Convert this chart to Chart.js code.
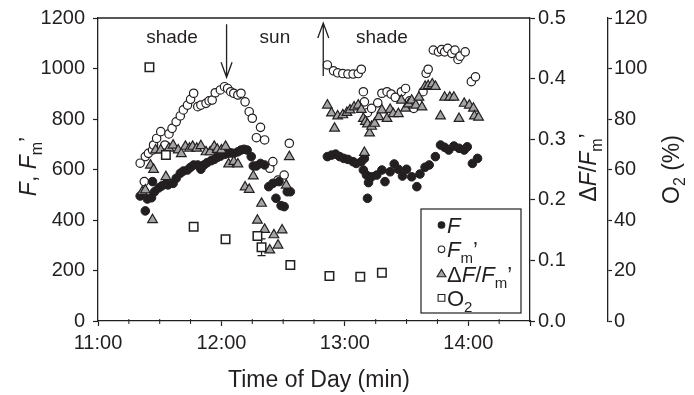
<!DOCTYPE html>
<html lang="en">
<head>
  <meta charset="UTF-8" />
  <title>F, Fm' and O2 through the day</title>
  <script src="https://cdn.jsdelivr.net/npm/chart.js"></script>
  <style>
    body {
      margin: 0;
      padding: 0;
      background: #ffffff;
      overflow: hidden;
    }
    .wrap {
      position: relative;
      width: 694px;
      height: 395px;
    }
  </style>
</head>
<body>
  <div class="wrap">
    <canvas id="chart" width="694" height="395"></canvas>
  </div>

  <script>
    // time of day in minutes after midnight
    const fTime = [680.5, 683, 684, 686, 686.5, 687.5, 689.5, 691, 693, 694, 696.5, 698, 700, 701.5, 703.5, 705, 706.5, 708.5, 710, 711.5,
      713, 715, 716.5, 718, 719.5, 721.5, 723, 724.5, 726, 728, 729.5, 731, 732.5, 734.5, 735.5, 737, 739, 741, 743, 745,
      746.5, 748, 749, 750.5, 752, 753.5,
      771.5, 773.5, 775.5, 777.5, 779.5, 781.5, 784, 785.5, 788, 789, 789.5, 790.5, 791, 791.5, 793, 795.5, 798, 799.5, 802, 804,
      806, 808, 810, 812.5, 815, 816.5, 819, 821, 824, 826.5, 828.5, 830.5, 833, 835.5, 838, 839.5, 842, 844.5];
    const fVal = [495, 436, 483, 488, 552, 512, 527, 535, 543, 539, 545, 565, 585, 594, 598, 609, 618, 618, 601, 618,
      627, 635, 640, 648, 653, 660, 664, 666, 664, 670, 677, 680, 677, 651, 614, 614, 624, 618, 532, 545,
      486, 552, 457, 453, 512, 512,
      651, 657, 661, 651, 644, 640, 631, 624, 631, 598, 644, 578, 486, 548, 571, 578, 598, 552, 591, 622,
      601, 574, 601, 571, 532, 582, 609, 618, 651, 697, 688, 677, 693, 684, 677, 690, 624, 644];

    const fmTime = [680.5, 682.5, 683, 684.5, 686.5, 687, 688.5, 690.5, 692.5, 694.5, 696, 698, 700, 701.5, 703.5, 705, 706.5, 708.5, 710, 712.5,
      714, 715.5, 717, 719.5, 721.5, 723, 724.5, 726, 728, 729.5, 731.5, 733.5, 735, 737, 739, 741, 743.5, 745, 747.5, 750.5, 753,
      771.5, 774.5, 776.5, 779, 781.5, 784, 786.5, 788, 789, 789.5, 791, 793, 796, 798, 800.5, 802.5, 804.5, 807.5, 809.5, 811.5,
      813.5, 815.5, 818, 819.5, 820.5, 823, 825.5, 827, 828.5, 830, 832, 833.5, 835, 836, 838.5, 841.5, 843.5];
    const fmVal = [625, 552, 651, 664, 677, 697, 723, 750, 697, 741, 763, 789, 812, 836, 855, 878, 902, 849, 855, 862,
      872, 875, 904, 915, 928, 921, 908, 902, 895, 902, 868, 829, 803, 726, 767, 717, 605, 631, 558, 578, 704,
      1014, 991, 983, 980, 978, 978, 980, 997, 908, 868, 825, 842, 864, 902, 908, 899, 886, 908, 921, 872,
      842, 862, 908, 981, 997, 1073, 1066, 1075, 1066, 1080, 1060, 1073, 1036, 1049, 1066, 948, 967];

    const phiTime = [681.5, 683, 685.5, 686.5, 687, 688, 690.5, 693, 694.5, 696.5, 699, 700.5, 702.5, 704.5, 706, 708, 710, 712.5, 714.5, 716.5,
      718, 720, 722, 723.5, 726, 728, 731.5, 733.5, 735.5, 737.5, 739.5, 741, 743.5, 745.5, 747.5, 749.5, 751.5, 753,
      771.5, 773.5, 775, 776.5, 779, 781, 782.5, 784.5, 786.5, 788, 789, 789.5, 790, 791, 792, 793, 794.5, 796.5, 798, 800.5,
      802, 803.5, 806, 807.5, 809.5, 811, 812.5, 814.5, 816, 817.5, 819, 820.5, 822.5, 824, 826.5, 828.5, 831, 833, 835.5, 838,
      840.5, 842.5, 843, 845];
    const phiVal = [0.213, 0.216, 0.257, 0.167, 0.25, 0.282, 0.282, 0.238, 0.285, 0.29, 0.282, 0.276, 0.288, 0.285, 0.288, 0.285, 0.289, 0.279, 0.279, 0.288,
      0.283, 0.282, 0.288, 0.259, 0.263, 0.259, 0.221, 0.217, 0.239, 0.166, 0.194, 0.151, 0.117, 0.142, 0.125, 0.15, 0.224, 0.271,
      0.356, 0.343, 0.318, 0.338, 0.34, 0.344, 0.348, 0.353, 0.356, 0.349, 0.334, 0.278, 0.329, 0.325, 0.31, 0.321, 0.326, 0.337, 0.348, 0.334,
      0.349, 0.342, 0.342, 0.364, 0.351, 0.358, 0.364, 0.356, 0.369, 0.353, 0.387, 0.388, 0.391, 0.387, 0.338, 0.369, 0.369, 0.369, 0.334, 0.359,
      0.356, 0.351, 0.338, 0.336];

    const o2Time = [685, 693, 706.5, 722, 737.5, 739.5, 753.5, 772.5, 787.5, 798];
    const o2Val = [100.5, 65.7, 37.3, 32.4, 33.7, 29.2, 22.2, 17.8, 17.5, 19.1];
    const o2Err = [0, 0, 0, 1.2, 0, 3.3, 1.4, 0, 0, 0];

    // light changes: arrows (time, start and end on the F axis) and the notes above them
    const arrowTime = [722.5, 769.5];
    const arrowFrom = [1175, 970];
    const arrowTo = [965, 1180];
    const noteText = ['shade', 'sun', 'shade'];
    const noteTime = [696, 746, 798];
    const noteLevel = 1100;

    const FONT = "'Liberation Sans', Arial, sans-serif";
    const INK = '#231f20';
    const GREY = '#a4a4a4';

    const toPoints = (xs, ys) => xs.map((x, i) => ({ x: x, y: ys[i] }));

    // draws text made of pieces (italic / subscript), centred or left aligned on a baseline
    function drawRich(ctx, parts, x, y, size, align) {
      const items = parts.map(p => {
        const s = p.sub ? Math.round(size * 0.68) : size;
        const font = (p.it ? 'italic ' : '') + s + 'px ' + FONT;
        ctx.font = font;
        return { t: p.t, font: font, w: ctx.measureText(p.t).width, dy: p.sub ? size * 0.27 : 0 };
      });
      const total = items.reduce((sum, it) => sum + it.w, 0);
      let cx = align === 'left' ? x : x - total / 2;
      ctx.textAlign = 'left';
      ctx.textBaseline = 'alphabetic';
      items.forEach(it => {
        ctx.font = it.font;
        ctx.fillText(it.t, cx, y + it.dy);
        cx += it.w;
      });
    }

    function drawRotated(ctx, parts, x, y, size) {
      ctx.save();
      ctx.translate(x, y);
      ctx.rotate(-Math.PI / 2);
      drawRich(ctx, parts, 0, 0, size);
      ctx.restore();
    }

    function legendMarker(ctx, kind, x, y) {
      ctx.beginPath();
      if (kind === 'dot' || kind === 'ring') {
        ctx.arc(x, y, 3.3, 0, Math.PI * 2);
      } else if (kind === 'tri') {
        ctx.moveTo(x, y - 4.2);
        ctx.lineTo(x + 4.4, y + 3.2);
        ctx.lineTo(x - 4.4, y + 3.2);
        ctx.closePath();
      } else {
        ctx.rect(x - 3.4, y - 3.4, 6.8, 6.8);
      }
      ctx.fillStyle = kind === 'dot' ? INK : (kind === 'tri' ? GREY : '#ffffff');
      ctx.fill();
      ctx.lineWidth = 1.1;
      ctx.strokeStyle = INK;
      ctx.stroke();
    }

    const decorations = {
      id: 'decorations',
      beforeDatasetsDraw(chart) {
        const ctx = chart.ctx;
        const xs = chart.scales.x;
        const ys = chart.scales.yO2;
        ctx.save();
        ctx.strokeStyle = INK;
        ctx.lineWidth = 1.2;
        o2Time.forEach((t, i) => {
          if (!o2Err[i]) return;
          const px = xs.getPixelForValue(t);
          const top = ys.getPixelForValue(o2Val[i] + o2Err[i]);
          const bot = ys.getPixelForValue(o2Val[i] - o2Err[i]);
          ctx.beginPath();
          ctx.moveTo(px, top); ctx.lineTo(px, bot);
          ctx.moveTo(px - 4, top); ctx.lineTo(px + 4, top);
          ctx.moveTo(px - 4, bot); ctx.lineTo(px + 4, bot);
          ctx.stroke();
        });
        ctx.restore();
      },
      afterDraw(chart) {
        const ctx = chart.ctx;
        const area = chart.chartArea;
        const xs = chart.scales.x;
        const yF = chart.scales.y;
        ctx.save();
        ctx.strokeStyle = INK;
        ctx.fillStyle = INK;
        ctx.lineWidth = 1.3;

        // top of the frame
        ctx.beginPath();
        ctx.moveTo(area.left, area.top);
        ctx.lineTo(area.right, area.top);
        ctx.stroke();

        // minor ticks every 15 min
        ctx.lineWidth = 1;
        for (let t = 675; t < 870; t += 15) {
          if (t % 60 === 0) continue;
          const px = xs.getPixelForValue(t);
          ctx.beginPath();
          ctx.moveTo(px, area.bottom - 2);
          ctx.lineTo(px, area.bottom + 3);
          ctx.stroke();
        }

        // arrows
        ctx.lineWidth = 1.3;
        arrowTime.forEach((t, i) => {
          const px = xs.getPixelForValue(t);
          const a = yF.getPixelForValue(arrowFrom[i]);
          const b = yF.getPixelForValue(arrowTo[i]);
          const dir = b > a ? 1 : -1;
          ctx.beginPath();
          ctx.moveTo(px, a);
          ctx.lineTo(px, b);
          ctx.moveTo(px - 5.5, b - dir * 15);
          ctx.lineTo(px, b);
          ctx.lineTo(px + 5.5, b - dir * 15);
          ctx.stroke();
        });

        // notes
        ctx.font = '19px ' + FONT;
        ctx.textAlign = 'center';
        ctx.textBaseline = 'alphabetic';
        noteText.forEach((txt, i) => {
          ctx.fillText(txt, xs.getPixelForValue(noteTime[i]), yF.getPixelForValue(noteLevel));
        });

        // axis titles
        const midY = (area.top + area.bottom) / 2;
        drawRotated(ctx, [{ t: 'F', it: true }, { t: ', ' }, { t: 'F', it: true }, { t: 'm', sub: true }, { t: '’' }], 36, midY - 3, 23);
        drawRotated(ctx, [{ t: 'Δ' }, { t: 'F', it: true }, { t: '/' }, { t: 'F', it: true }, { t: 'm', sub: true }, { t: '’' }], 596, midY - 2, 23);
        drawRotated(ctx, [{ t: 'O' }, { t: '2', sub: true }, { t: ' (%)' }], 679, midY, 23);
        drawRich(ctx, [{ t: 'Time of Day (min)' }], (area.left + area.right) / 2 + 5, 387, 23);

        // legend
        const lx = area.right - 109;
        const ly = area.bottom - 112;
        ctx.fillStyle = '#ffffff';
        ctx.fillRect(lx, ly, 100, 104);
        ctx.lineWidth = 1.2;
        ctx.strokeStyle = INK;
        ctx.strokeRect(lx, ly, 100, 104);
        const rows = [
          { kind: 'dot', parts: [{ t: 'F', it: true }] },
          { kind: 'ring', parts: [{ t: 'F', it: true }, { t: 'm', sub: true }, { t: '’' }] },
          { kind: 'tri', parts: [{ t: 'Δ' }, { t: 'F', it: true }, { t: '/' }, { t: 'F', it: true }, { t: 'm', sub: true }, { t: '’' }] },
          { kind: 'sq', parts: [{ t: 'O' }, { t: '2', sub: true }] }
        ];
        rows.forEach((row, i) => {
          const base = ly + 24 + i * 24.3;
          legendMarker(ctx, row.kind, lx + 20.5, base - 8);
          ctx.fillStyle = INK;
          drawRich(ctx, row.parts, lx + 26, base, 22, 'left');
        });
        ctx.restore();
      }
    };

    const tickFont = { family: FONT, size: 20 };

    new Chart(document.getElementById('chart').getContext('2d'), {
      type: 'scatter',
      data: {
        datasets: [
          {
            label: 'O2',
            data: toPoints(o2Time, o2Val),
            yAxisID: 'yO2',
            pointStyle: 'rect',
            pointRadius: 6,
            backgroundColor: '#ffffff',
            borderColor: INK,
            borderWidth: 1.5,
            order: 0
          },
          {
            label: 'dF/Fm',
            data: toPoints(phiTime, phiVal),
            yAxisID: 'yPhi',
            pointStyle: 'triangle',
            pointRadius: 5.6,
            backgroundColor: GREY,
            borderColor: INK,
            borderWidth: 1.2,
            order: 1
          },
          {
            label: 'F',
            data: toPoints(fTime, fVal),
            yAxisID: 'y',
            pointStyle: 'circle',
            pointRadius: 4.3,
            backgroundColor: INK,
            borderColor: INK,
            borderWidth: 1,
            order: 2
          },
          {
            label: 'Fm',
            data: toPoints(fmTime, fmVal),
            yAxisID: 'y',
            pointStyle: 'circle',
            pointRadius: 4.2,
            backgroundColor: '#ffffff',
            borderColor: INK,
            borderWidth: 1.2,
            order: 3
          }
        ]
      },
      options: {
        responsive: false,
        animation: false,
        layout: { padding: { top: 18, left: 0, right: 0, bottom: 0 } },
        plugins: {
          legend: { display: false },
          tooltip: { enabled: false }
        },
        scales: {
          x: {
            type: 'linear',
            position: 'bottom',
            min: 660,
            max: 870,
            ticks: {
              stepSize: 60,
              autoSkip: false,
              maxRotation: 0,
              padding: 5,
              color: INK,
              font: tickFont,
              callback: v => (v % 60 === 0 ? (v / 60) + ':00' : '')
            },
            grid: { drawOnChartArea: false, tickLength: 5, color: INK, tickWidth: 1.2 },
            border: { color: INK, width: 1.3 },
            afterFit: s => { s.height = 74; s.paddingLeft = 0; s.paddingRight = 0; }
          },
          y: {
            position: 'left',
            min: 0,
            max: 1200,
            ticks: { stepSize: 200, padding: 8, color: INK, font: tickFont, callback: v => String(v) },
            grid: { drawOnChartArea: false, tickLength: 5, color: INK, tickWidth: 1.2 },
            border: { color: INK, width: 1.3 },
            afterFit: s => { s.width = 98; s.paddingTop = 0; s.paddingBottom = 0; }
          },
          yPhi: {
            position: 'right',
            weight: 0,
            min: 0,
            max: 0.5,
            ticks: { stepSize: 0.1, padding: 3, color: INK, font: tickFont, callback: v => v.toFixed(1) },
            grid: { drawOnChartArea: false, tickLength: 5, color: INK, tickWidth: 1.2 },
            border: { color: INK, width: 1.3 },
            afterFit: s => { s.width = 78; s.paddingTop = 0; s.paddingBottom = 0; }
          },
          yO2: {
            position: 'right',
            weight: 1,
            min: 0,
            max: 120,
            ticks: { stepSize: 20, padding: 2, color: INK, font: tickFont, callback: v => String(v) },
            grid: { drawOnChartArea: false, tickLength: 4, color: INK, tickWidth: 1.2 },
            border: { color: INK, width: 1.3 },
            afterFit: s => { s.width = 86; s.paddingTop = 0; s.paddingBottom = 0; }
          }
        }
      },
      plugins: [decorations]
    });
  </script>
</body>
</html>
